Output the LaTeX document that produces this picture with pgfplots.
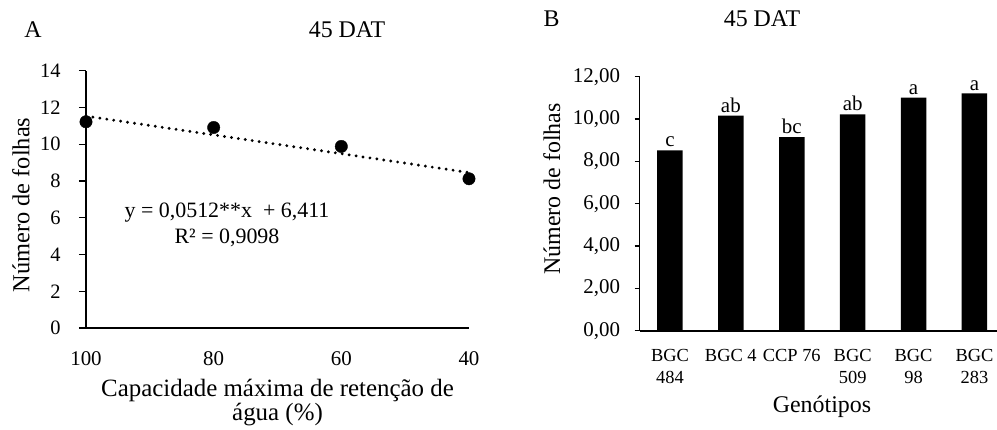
\documentclass[border=0pt]{standalone}
\usepackage{fontspec}
\setmainfont{Liberation Serif}
\usepackage{pgfplots}
\pgfplotsset{compat=1.18}
\newcommand{\fs}[1]{\fontsize{#1}{#1}\selectfont}
\begin{document}
\begin{tikzpicture}
\path[use as bounding box] (0,0) rectangle (997bp,430bp);
\begin{axis}[
 at={(86bp,102bp)}, anchor=south west, scale only axis, width=383bp, height=257.3bp,
 xmin=40, xmax=100, x dir=reverse, ymin=0, ymax=14,
 xtick={40,60,80,100}, ytick={0,2,...,14},
 axis x line*=bottom, axis y line*=left,
 axis line style={-}, x axis line style={line width=2.6bp}, y axis line style={line width=1.2bp},
 tick align=outside, major tick length=7bp,
 xtick style={draw=none}, ytick style={line width=1.2bp, black},
 xticklabel style={font=\fs{21}, yshift=-13bp},
 yticklabel style={font=\fs{20.5}, xshift=-15bp},
 /pgf/number format/assume math mode=true,
 clip=false,
]
\addplot[black, line width=3.2bp, line cap=round, dash pattern=on 0bp off 7bp] coordinates {(100,11.531) (40,8.459)};
\addplot[only marks, mark=*, mark size=6.2bp, black] coordinates {(100,11.22) (80,10.91) (60,9.88) (40,8.12)};
\end{axis}
\begin{axis}[
 at={(639.5bp,99.3bp)}, anchor=south west, scale only axis, width=365.4bp, height=254bp,
 xmin=-0.5, xmax=5.5, ymin=0, ymax=12, ytick={0,2,...,12},
 xtick={0,...,5}, xticklabels={{BGC\\484},{BGC 4},{CCP 76},{BGC\\509},{BGC\\98},{BGC\\283}},
 axis x line*=bottom, axis y line*=left,
 axis line style={-}, x axis line style={line width=2.2bp}, y axis line style={line width=1.2bp},
 tick align=outside, major tick length=5bp,
 xtick style={draw=none}, ytick style={line width=1.2bp, black},
 xticklabel style={align=center, font=\fontsize{18.5}{22.5}\selectfont, yshift=-10bp},
 yticklabel style={font=\fs{21}, xshift=-11bp},
 /pgf/number format/fixed, /pgf/number format/fixed zerofill, /pgf/number format/precision=2,
 /pgf/number format/use comma, /pgf/number format/assume math mode=true,
 nodes near coords, point meta=explicit symbolic,
 nodes near coords style={font=\fs{21}, anchor=south, inner sep=3bp, black},
 clip=false,
]
\addplot[ybar, fill=black, draw=none, bar width=25.5bp] coordinates {(0,8.52)[c] (1,10.16)[ab] (2,9.14)[bc] (3,10.22)[ab] (4,11.01)[a] (5,11.21)[a]};
\end{axis}
\node[font=\fs{24}] at (33bp,400bp) {A};
\node[font=\fs{24}] at (347bp,400bp) {45 DAT};
\node[font=\fs{24}] at (551.7bp,411bp) {B};
\node[font=\fs{24}] at (762bp,411bp) {45 DAT};
\node[font=\fs{24.5}, rotate=90] at (21bp,225bp) {Número de folhas};
\node[font=\fs{24}, rotate=90] at (551.7bp,241bp) {Número de folhas};
\node[font=\fontsize{25}{25}\selectfont, align=center] at (277.5bp,27.5bp) {Capacidade máxima de retenção de\\água (\%)};
\node[font=\fs{24}] at (822bp,23bp) {Genótipos};
\node[font=\fontsize{22}{26}\selectfont, align=center] at (227bp,205bp) {y = 0,0512**x\ \ + 6,411\\R² = 0,9098};
\end{tikzpicture}
\end{document}
